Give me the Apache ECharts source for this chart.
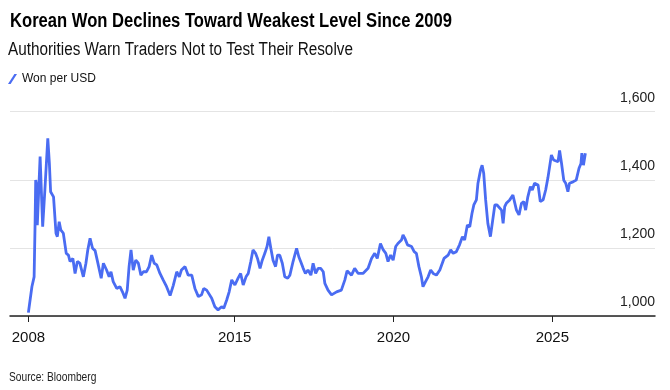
<!DOCTYPE html>
<html>
<head>
<meta charset="utf-8">
<script src="https://cdn.jsdelivr.net/npm/echarts@6/dist/echarts.min.js"></script>
<style>html,body{margin:0;padding:0;background:#fff}#c{width:670px;height:390px}</style>
</head>
<body>
<div id="c"></div>
<script>
const dates = [
"2008-07-04","2008-08-14","2008-09-09","2008-09-20","2008-09-27","2008-10-04","2008-10-15","2008-11-17","2008-12-16",
"2009-01-11","2009-02-14","2009-03-02","2009-03-16","2009-04-19","2009-05-17","2009-06-02","2009-06-23","2009-07-11","2009-08-10","2009-09-13","2009-10-08","2009-10-26","2009-11-28","2009-12-23",
"2010-01-19","2010-02-17","2010-03-27","2010-04-26","2010-05-17","2010-06-13","2010-07-11","2010-08-10","2010-09-16","2010-10-19","2010-11-14","2010-12-20",
"2011-01-19","2011-02-10","2011-03-05","2011-04-15","2011-05-21","2011-06-20","2011-07-19","2011-08-14","2011-09-05","2011-09-27","2011-10-22","2011-11-21","2011-12-20",
"2012-01-19","2012-02-17","2012-03-23","2012-04-22","2012-05-21","2012-06-20","2012-07-19","2012-08-25","2012-10-01","2012-11-10","2012-12-20",
"2013-01-26","2013-03-05","2013-04-04","2013-04-28","2013-06-09","2013-07-15","2013-08-25","2013-10-01","2013-11-10","2013-12-16",
"2014-01-11","2014-02-14","2014-04-11","2014-05-17","2014-06-23","2014-08-03","2014-08-28","2014-10-01","2014-10-29","2014-11-28",
"2015-01-04","2015-02-10","2015-03-09","2015-04-08","2015-05-10","2015-06-05","2015-07-04","2015-07-29","2015-08-28","2015-09-20","2015-10-19","2015-11-14","2015-12-13",
"2016-01-08","2016-01-29","2016-02-21","2016-03-16","2016-04-15","2016-05-07","2016-06-02","2016-07-01","2016-07-29","2016-09-02","2016-09-27","2016-11-03","2016-12-13",
"2017-01-08","2017-01-29","2017-02-28","2017-03-23","2017-04-22","2017-05-25","2017-06-20","2017-07-19","2017-08-17","2017-09-16","2017-10-15","2017-11-03","2017-12-09",
"2018-01-19","2018-03-16","2018-05-10","2018-06-20","2018-07-15","2018-09-05","2018-10-11","2018-11-21",
"2019-01-15","2019-03-13","2019-04-22","2019-05-28","2019-06-27","2019-08-03","2019-09-05","2019-10-04","2019-10-29","2019-11-28","2019-12-27",
"2020-01-26","2020-02-21","2020-04-01","2020-04-19","2020-05-10","2020-06-09","2020-07-26","2020-08-25","2020-09-20","2020-10-19","2020-11-17","2020-12-05",
"2021-01-04","2021-02-03","2021-03-02","2021-04-01","2021-05-07","2021-06-16","2021-08-03","2021-09-20","2021-10-19","2021-11-17","2021-12-23",
"2022-01-29","2022-03-02","2022-03-27","2022-04-28","2022-05-25","2022-06-20","2022-07-11","2022-08-10","2022-08-28","2022-09-27","2022-10-15","2022-11-03","2022-11-25","2022-12-20",
"2023-01-19","2023-02-10","2023-03-09","2023-04-04","2023-04-26","2023-05-25","2023-06-13","2023-07-01","2023-07-19","2023-08-28","2023-10-04","2023-11-14","2023-12-13",
"2024-01-11","2024-02-07","2024-02-28","2024-03-23","2024-04-22","2024-05-14","2024-06-09","2024-07-19","2024-08-14","2024-09-16","2024-10-15","2024-11-10","2024-12-20",
"2025-01-15","2025-02-07","2025-03-05","2025-03-23","2025-04-15","2025-05-10","2025-06-02","2025-06-27","2025-07-15","2025-08-25","2025-10-01","2025-11-03","2025-11-25","2025-12-05","2025-12-23",
"2026-01-15"
];
// Won per USD
const wonPerUsd = [
1010,1086,1115,1272,1399,1390,1267,1468,1262,
1370,1522,1448,1365,1350,1243,1233,1277,1253,1243,1184,1179,1160,1169,1125,
1160,1155,1115,1155,1194,1228,1199,1192,1150,1111,1155,1135,
1115,1130,1101,1081,1086,1071,1052,1076,1145,1194,1135,1164,1155,
1120,1130,1130,1145,1179,1155,1150,1125,1106,1086,1060,
1090,1130,1115,1135,1145,1120,1120,1081,1057,1062,
1081,1076,1052,1027,1018,1027,1023,1047,1071,1106,
1091,1111,1125,1091,1115,1125,1160,1194,1184,1169,1140,1164,1184,
1204,1233,1199,1164,1145,1179,1179,1155,1115,1111,1120,1160,1199,
1174,1160,1140,1125,1135,1120,1155,1125,1140,1140,1130,1096,1076,
1062,1071,1076,1106,1133,1120,1140,1125,
1125,1140,1169,1184,1169,1213,1194,1184,1160,1179,1164,
1204,1213,1223,1238,1228,1209,1204,1189,1184,1145,1115,1086,
1101,1115,1135,1125,1120,1135,1169,1179,1194,1184,1189,
1209,1233,1223,1267,1262,1301,1326,1341,1390,1429,1443,1419,1341,1272,
1233,1272,1326,1326,1331,1311,1272,1321,1331,1341,1355,1311,1297,
1331,1336,1311,1350,1380,1370,1390,1385,1336,1341,1370,1405,1473,
1458,1458,1453,1486,1448,1399,1390,1365,1390,1394,1399,1434,1448,1478,1443,
1478
];
const xTickDates = ["2008-07-04","2015-01-01","2020-01-01","2025-01-01"];
const xTickLabels = ["2008","2015","2020","2025"];

const titleText = 'Korean Won Declines Toward Weakest Level Since 2009';
const subtitleText = 'Authorities Warn Traders Not to Test Their Resolve';
const sourceText = 'Source: Bloomberg';
const seriesName = 'Won per USD';

function toYear(s){const p=s.split("-").map(Number);return p[0]+(p[1]-1+(p[2]-1)/30)/12;}
const seriesData = dates.map((d,i)=>[toYear(d), wonPerUsd[i]]);
const tickYears = xTickDates.map(toYear);

const FONT2 = "'Liberation Sans', Arial, sans-serif";
const chart = echarts.init(document.getElementById('c'), null, {renderer:'canvas'});
chart.setOption({
  animation:false,
  backgroundColor:'#fff',
  graphic:[
    {type:'text', x:10, y:21.5, scaleX:0.83, silent:true,
     style:{text:titleText, font:"bold 20px 'Liberation Sans', Arial, sans-serif", fill:'#000', textVerticalAlign:'middle'}},
    {type:'text', x:8, y:50, scaleX:0.85, silent:true,
     style:{text:subtitleText, font:"18px 'Liberation Sans', Arial, sans-serif", fill:'#111', textVerticalAlign:'middle'}},
    {type:'text', x:9, y:378, scaleX:0.85, silent:true,
     style:{text:sourceText, font:"12px 'Liberation Sans', Arial, sans-serif", fill:'#222', textVerticalAlign:'middle'}}
  ],
  legend:{left:3, top:68, itemWidth:9, itemHeight:11, itemGap:6,
    icon:'path://M0,10 L2.6,10 L9,0 L6.4,0 Z',
    textStyle:{fontFamily:FONT2, fontSize:12, color:'#111'},
    data:[{name:seriesName}]},
  grid:{left:10, right:15, top:111.7, bottom:74, containLabel:false},
  xAxis:{type:'value', min:2007.93, max:2028.23,
    splitLine:{show:false},
    axisLine:{show:true, lineStyle:{color:'#222', width:1.5}},
    axisTick:{show:true, customValues:tickYears, length:6, lineStyle:{color:'#222', width:1}},
    axisLabel:{customValues:tickYears, margin:14, fontFamily:FONT2, fontSize:15, color:'#111',
      formatter:(v)=>{let best=0;tickYears.forEach((t,i)=>{if(Math.abs(t-v)<Math.abs(tickYears[best]-v))best=i;});return xTickLabels[best];}}
  },
  yAxis:{type:'value', position:'right', min:1000, max:1600, interval:200,
    axisLine:{show:false}, axisTick:{show:false},
    splitLine:{show:true, lineStyle:{color:'#e4e4e4', width:1}},
    axisLabel:{inside:true, margin:0, fontFamily:FONT2, fontSize:14, color:'#222',
      verticalAlign:'bottom', padding:[0,0,7,0],
      formatter:(v)=>v.toLocaleString('en-US')}
  },
  series:[{name:seriesName, type:'line', data:seriesData, showSymbol:false, symbol:'none',
    lineStyle:{color:'#4a6cf2', width:2.8}, itemStyle:{color:'#4a6cf2'}, z:3}]
});
</script>
</body>
</html>
